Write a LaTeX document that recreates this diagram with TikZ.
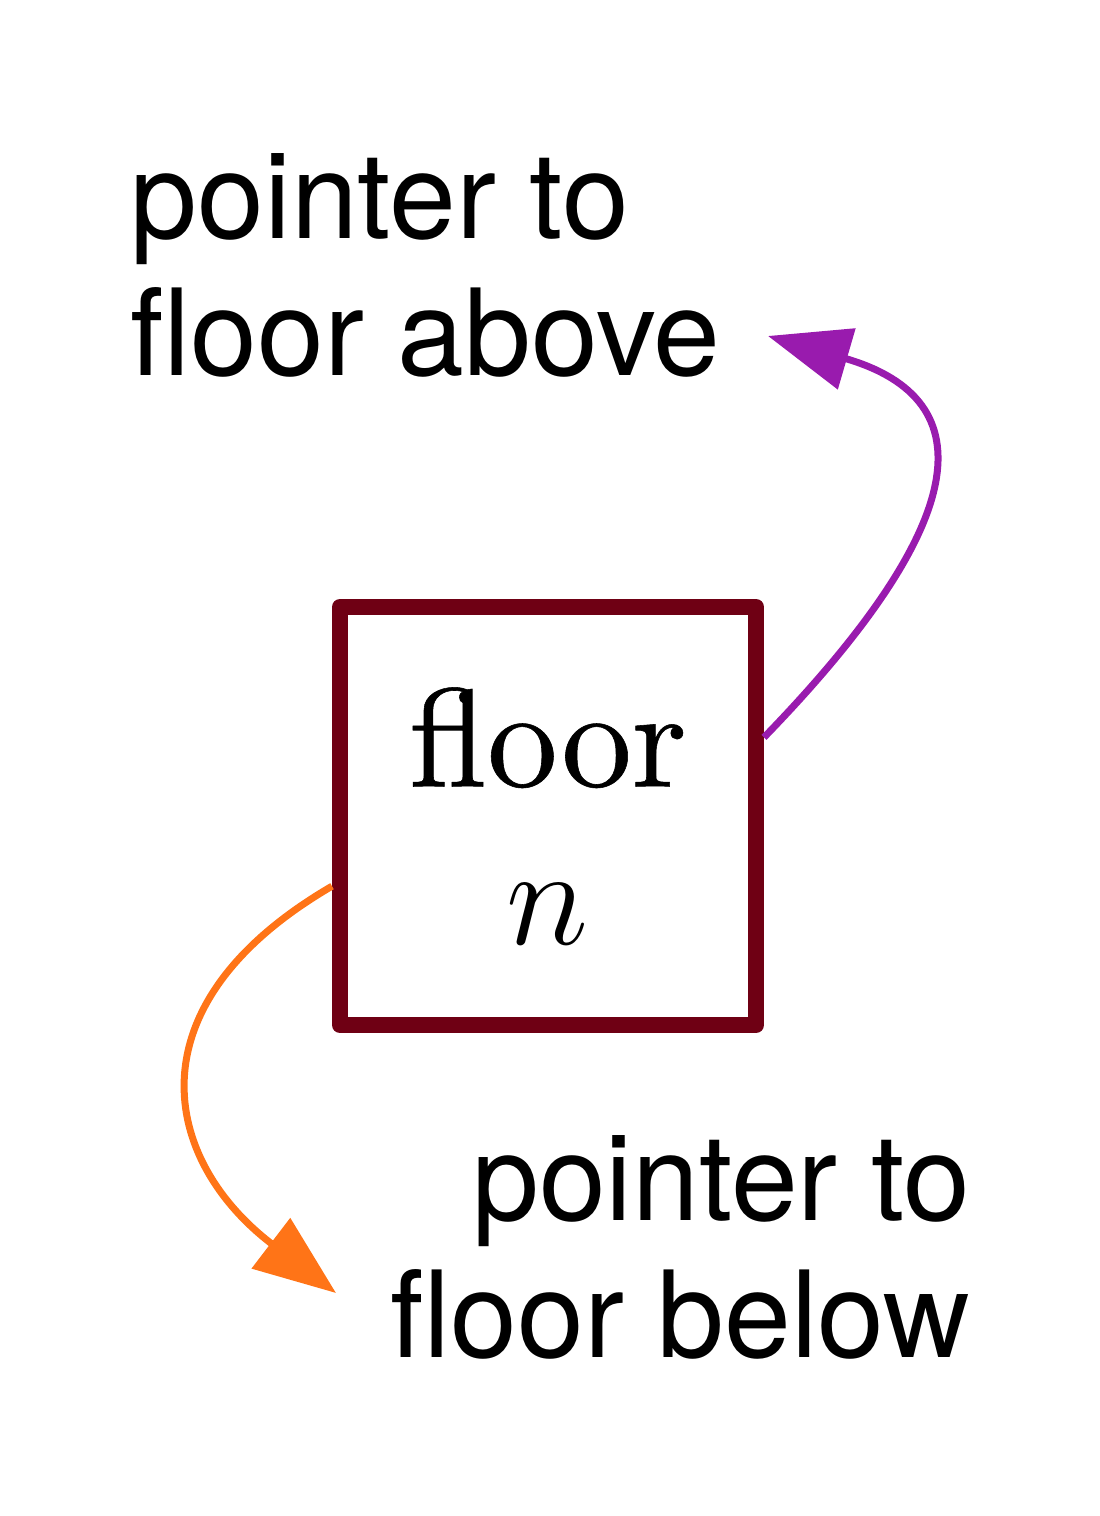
\documentclass[tikz,border=0pt]{standalone}
\usepackage{fix-cm}
\usepackage{fontspec}
\usepackage{xcolor}
\usepackage{tikz}
\usetikzlibrary{arrows.meta}

\newfontfamily\notefont{TeX Gyre Heros}
\newfontfamily\boxfont{lmroman10-regular.otf}[FakeBold=0.4]

\definecolor{floorred}{RGB}{111,0,20}
\definecolor{uppurple}{RGB}{153,27,174}
\definecolor{downorange}{RGB}{255,116,23}

\begin{document}
\begin{tikzpicture}[
    x=1cm,
    y=1cm,
    note/.style={inner sep=0pt, font={\notefont\fontsize{34.2}{38.8}\selectfont}},
    floorbox/.style={draw=floorred, line width=0.16cm, line join=round, inner sep=0pt,
      minimum width=4.16cm, minimum height=4.18cm, align=center,
      font={\boxfont\fontsize{40}{45}\selectfont}},
    uparrow/.style={draw=uppurple, line width=0.07cm, -{Triangle[length=0.82cm, width=0.62cm]}},
    downarrow/.style={draw=downorange, line width=0.07cm, -{Triangle[length=0.82cm, width=0.62cm]}}
]
\useasboundingbox (0,0) rectangle (10.99,-15.16);

\node[floorbox] (floor) at (5.48,-8.16) {floor\\$n$};

\node[note, anchor=base west, align=left] (above) at (1.30,-3.75) {pointer to\\floor above};
\node[note, anchor=base east, align=right] (below) at (9.71,-13.57) {pointer to\\floor below};

\coordinate (uptip) at (7.68,-3.36);
\coordinate (downtip) at (3.36,-12.93);

\draw[uparrow] (floor.20) .. controls (9.70,-5.25) and (9.88,-4.00) .. (uptip);
\draw[downarrow] (floor.198) .. controls (1.28,-10.05) and (1.62,-11.60) .. (downtip);
\end{tikzpicture}
\end{document}
